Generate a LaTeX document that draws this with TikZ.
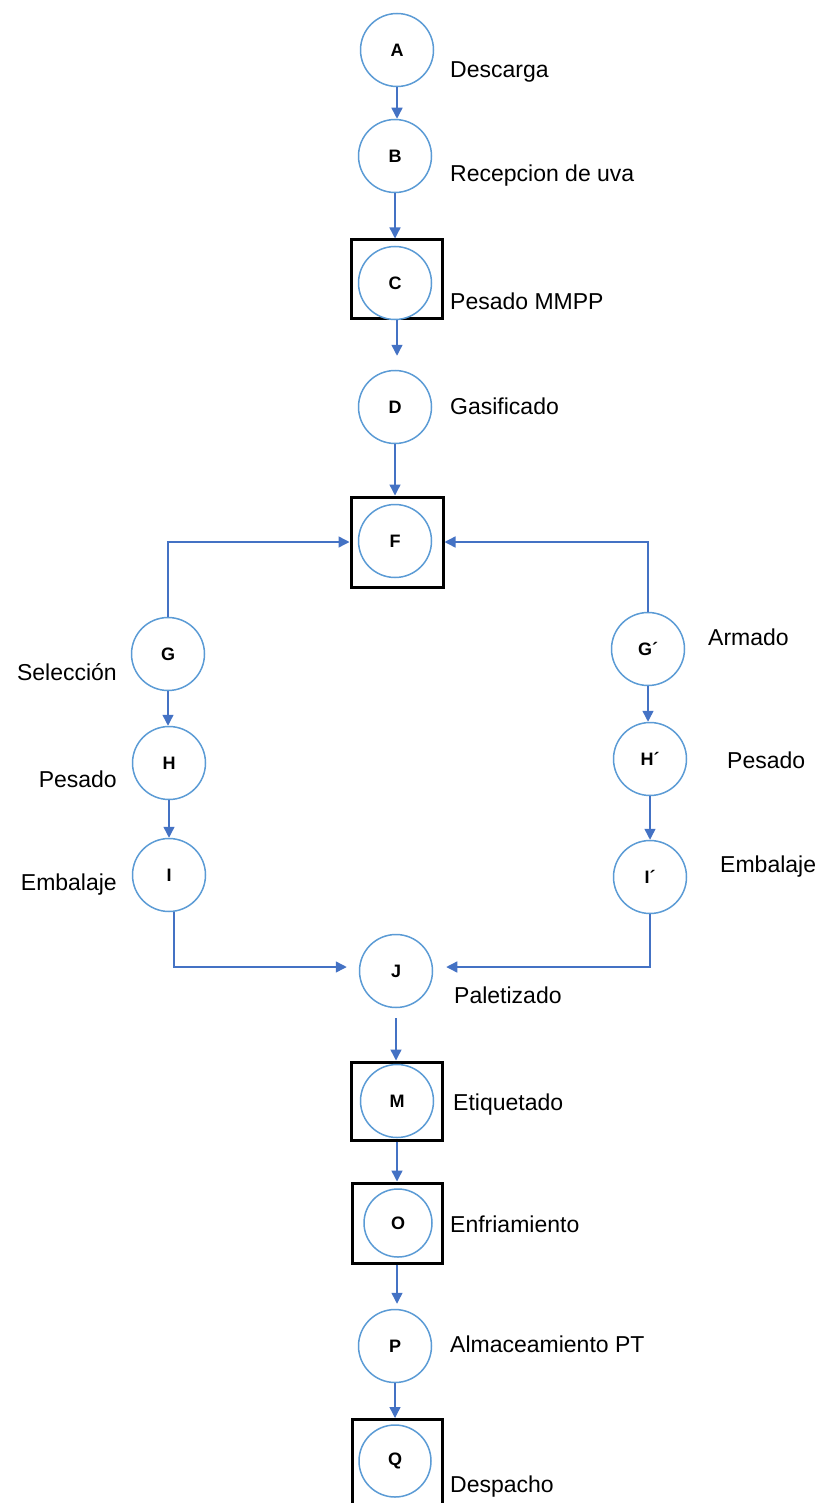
\documentclass[tikz,border=0pt]{standalone}
\usepackage{fontspec}
\setmainfont{Liberation Sans}
\usetikzlibrary{arrows.meta}
\definecolor{arrblue}{HTML}{4472C4}
\definecolor{circblue}{HTML}{5B9BD5}
\tikzset{
  opnode/.style={circle, draw=circblue, line width=1.5pt, minimum size=73pt, inner sep=0pt, fill=white, font=\fontsize{18}{20}\selectfont\bfseries},
  boxnode/.style={draw=black, line width=3pt, inner sep=0pt},
  lbl/.style={inner sep=0pt, font=\fontsize{23}{26}\selectfont},
  arr/.style={draw=arrblue, line width=1.4pt, -{Triangle[length=11pt,width=11pt]}}
}
\begin{document}
\begin{tikzpicture}[x=1pt,y=-1pt]
\useasboundingbox (0,0) rectangle (817,1503);
% boxes
\node[boxnode, minimum width=91pt, minimum height=78pt] (Cb) at (397,279) {};
\node[boxnode, minimum width=92pt, minimum height=90pt] (Fb) at (397,542) {};
\node[boxnode, minimum width=91pt, minimum height=78pt] (Mb) at (397,1101) {};
\node[boxnode, minimum width=90pt, minimum height=80pt] (Ob) at (397,1223) {};
\node[boxnode, minimum width=90pt, minimum height=92pt, anchor=north] (Qb) at (397,1418) {};
% circles
\node[opnode] (A) at (397,50) {A};
\node[opnode] (B) at (395,156) {B};
\node[opnode] (C) at (395,283) {C};
\node[opnode] (D) at (395,407) {D};
\node[opnode] (F) at (395,541) {F};
\node[opnode] (G) at (168,654) {G};
\node[opnode] (H) at (169,763) {H};
\node[opnode] (I) at (169,875) {I};
\node[opnode] (G2) at (648,649) {G´};
\node[opnode] (H2) at (650,759) {H´};
\node[opnode] (I2) at (650,877) {I´};
\node[opnode] (J) at (396,971) {J};
\node[opnode] (M) at (397,1101) {M};
\node[opnode, minimum size=68pt] (O) at (398,1223) {O};
\node[opnode] (P) at (395,1346) {P};
\node[opnode, minimum size=72pt] (Q) at (395,1461) {Q};
% labels
\node[lbl, anchor=base west] (lA) at (450,78) {Descarga};
\node[lbl, anchor=base west] (lB) at (450,182) {Recepcion de uva};
\node[lbl, anchor=base west] (lC) at (450,309) {Pesado MMPP};
\node[lbl, anchor=base west] (lD) at (450,414) {Gasificado};
\node[lbl, anchor=base east] (lG) at (117,680) {Selección};
\node[lbl, anchor=base east] (lH) at (117,787) {Pesado};
\node[lbl, anchor=base east] (lI) at (117,890) {Embalaje};
\node[lbl, anchor=base west] (lG2) at (708,645) {Armado};
\node[lbl, anchor=base west] (lH2) at (727,768) {Pesado};
\node[lbl, anchor=base west] (lI2) at (720,872) {Embalaje};
\node[lbl, anchor=base west] (lJ) at (454,1003) {Paletizado};
\node[lbl, anchor=base west] (lM) at (453,1110) {Etiquetado};
\node[lbl, anchor=base west] (lO) at (450,1232) {Enfriamiento};
\node[lbl, anchor=base west] (lP) at (450,1352) {Almaceamiento PT};
\node[lbl, anchor=base west] (lQ) at (450,1492) {Despacho};
% connectors
\draw[arr] (A.south) -- (A.south |- B.north);
\draw[arr] (B.south) -- (B.south |- Cb.north);
\draw[arr, shorten >=14pt] (Cb.south) -- (Cb.south |- D.north);
\draw[arr] (D.south) -- (D.south |- Fb.north);
\draw[arr] (G.north) |- (Fb.west);
\draw[arr] (G2.north) |- (Fb.east);
\draw[arr] (G.south) -- (G.south |- H.north);
\draw[arr] (H.south) -- (H.south |- I.north);
\draw[arr] (G2.south) -- (G2.south |- H2.north);
\draw[arr] (H2.south) -- (H2.south |- I2.north);
\draw[arr, shorten >=12pt] ([xshift=5pt]I.south) |- ([yshift=4pt]J.west);
\draw[arr, shorten >=13pt] (I2.south) |- ([yshift=4pt]J.east);
\draw[arr, shorten <=10pt] (J.south) -- (J.south |- Mb.north);
\draw[arr] (Mb.south) -- (Mb.south |- Ob.north);
\draw[arr, shorten >=5pt] (Ob.south) -- (Ob.south |- P.north);
\draw[arr] (P.south) -- (P.south |- Qb.north);
\end{tikzpicture}
\end{document}
